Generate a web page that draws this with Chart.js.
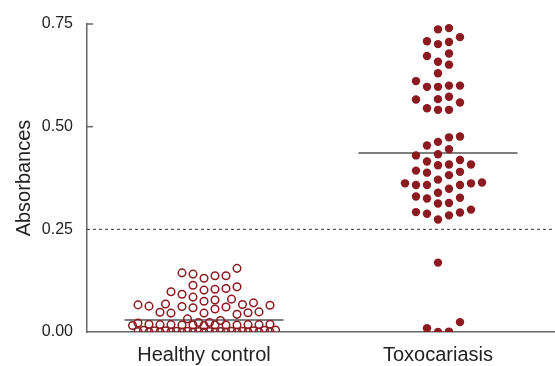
<!DOCTYPE html>
<html>
<head>
<meta charset="utf-8">
<script src="https://cdn.jsdelivr.net/npm/chart.js@4"></script>
<style>
  body { margin: 0; background: #fff; }
</style>
</head>
<body>
<canvas id="dot-chart" width="555" height="366"></canvas>
<script>
// Groups on the x axis
const categories = ['Healthy control', 'Toxocariasis'];

// Absorbance of each sample
const healthy = [
  0.155, 0.144, 0.141, 0.137, 0.137, 0.131, 0.114, 0.110, 0.106, 0.104,
  0.102, 0.098, 0.092, 0.085, 0.080, 0.078, 0.075, 0.071, 0.068, 0.067,
  0.066, 0.065, 0.063, 0.062, 0.061, 0.059, 0.056, 0.049, 0.048, 0.047,
  0.046, 0.046, 0.043, 0.032, 0.028, 0.023, 0.023, 0.022,
  0.019, 0.018, 0.018, 0.017, 0.017, 0.017, 0.017, 0.016, 0.016, 0.017,
  0.018, 0.018, 0.019,
  0.005, 0.004, 0.004, 0.003, 0.003, 0.003, 0.002, 0.002, 0.002, 0.002,
  0.001, 0.001, 0.001, 0.001, 0.001, 0.000, 0.000, 0.000, 0.000, 0.000,
  0.000, 0.000, 0.000, 0.000, 0.000, 0.000
];
const toxocariasis = [
  0.740, 0.737, 0.718, 0.708, 0.701, 0.706, 0.672, 0.678, 0.658, 0.651,
  0.630, 0.611, 0.600, 0.597, 0.597, 0.600, 0.559, 0.567, 0.573, 0.566,
  0.541, 0.541, 0.545,
  0.476, 0.474, 0.463, 0.445, 0.454, 0.433, 0.430, 0.419, 0.415, 0.408,
  0.406, 0.408, 0.390, 0.388, 0.393, 0.382, 0.371, 0.362, 0.358, 0.358,
  0.362, 0.364, 0.358, 0.349, 0.339, 0.327, 0.325, 0.330, 0.314, 0.313,
  0.292, 0.288, 0.298, 0.291, 0.284, 0.274,
  0.169, 0.009, 0.000, 0.001, 0.024
];

// Group means (horizontal bars) and the cut-off (dashed line)
const means = [0.029, 0.436];
const cutoff = 0.25;
const yTicks = [0, 0.25, 0.5, 0.75];

const red = '#8b1b20';
const axisGrey = '#666';
const meanHalfWidth = 0.34;
const fontFamily = "'Liberation Sans', Arial, sans-serif";

const centers = categories.map((c, i) => i + 0.5);

function meanLine(i) {
  return {
    type: 'line',
    data: [{x: centers[i] - meanHalfWidth, y: means[i]}, {x: centers[i] + meanHalfWidth, y: means[i]}],
    borderColor: '#555',
    borderWidth: 1.5,
    pointRadius: 0,
    order: 2
  };
}

// spread points sideways like a column scatter (beeswarm)
function swarm(values, center, chart) {
  const xs = chart.scales.x, ys = chart.scales.y;
  const step = 11, minDist = 10.5, maxCol = 6;
  const cands = [0];
  for (let k = 1; k <= maxCol; k++) cands.push(k, -k);
  for (let k = 0; k <= maxCol; k++) cands.push(k + 0.5, -(k + 0.5));
  const cx = xs.getPixelForValue(center);
  const placed = [];
  const out = new Array(values.length);
  const order = values.map((v, i) => i).sort((a, b) => values[a] - values[b]);
  order.forEach(i => {
    const py = ys.getPixelForValue(values[i]);
    let best = cx, bestD = -1;
    for (const c of cands) {
      const px = cx + c * step;
      let m = Infinity;
      for (const p of placed) m = Math.min(m, Math.hypot(p.px - px, p.py - py));
      if (m >= minDist) { best = px; bestD = m; break; }
      if (m > bestD + 0.01) { bestD = m; best = px; }
    }
    placed.push({px: best, py: py});
    out[i] = {x: xs.getValueForPixel(best), y: values[i]};
  });
  return out;
}

// small inward tick marks like the original figure
const innerTicks = {
  id: 'innerTicks',
  afterDraw(chart) {
    const {ctx, chartArea, scales} = chart;
    ctx.save();
    ctx.strokeStyle = axisGrey;
    ctx.lineWidth = 1.5;
    yTicks.forEach(v => {
      if (v === 0 || v === cutoff) return;
      const y = scales.y.getPixelForValue(v);
      ctx.beginPath();
      ctx.moveTo(chartArea.left, y);
      ctx.lineTo(chartArea.left + 6, y);
      ctx.stroke();
    });
    ctx.restore();
  }
};

const chartCanvas = document.querySelector('#dot-chart');
const dotChart = new Chart(chartCanvas, {
  type: 'scatter',
  data: {
    datasets: [
      {
        data: healthy.map(v => ({x: centers[0], y: v})),
        pointRadius: 3.8,
        pointBorderWidth: 1.5,
        pointBorderColor: red,
        pointBackgroundColor: 'rgba(0,0,0,0)',
        order: 1
      },
      {
        data: toxocariasis.map(v => ({x: centers[1], y: v})),
        pointRadius: 4.2,
        pointBorderWidth: 0,
        pointBackgroundColor: red,
        order: 1
      },
      meanLine(0),
      meanLine(1),
      {
        type: 'line',
        data: [{x: 0, y: cutoff}, {x: 2, y: cutoff}],
        borderColor: '#333',
        borderWidth: 1,
        borderDash: [3, 3],
        pointRadius: 0,
        order: 3
      }
    ]
  },
  options: {
    responsive: false,
    animation: false,
    layout: { autoPadding: false, padding: { top: 24, right: 0, left: 0, bottom: 0 } },
    plugins: {
      legend: { display: false },
      tooltip: { enabled: false }
    },
    scales: {
      x: {
        type: 'linear',
        min: 0,
        max: 2,
        afterBuildTicks: scale => { scale.ticks = centers.map(c => ({value: c})); },
        afterFit: scale => { scale.height = 34; scale.paddingLeft = 0; scale.paddingRight = 0; },
        grid: { display: false, drawTicks: false, tickLength: 0 },
        border: { color: axisGrey, width: 1.5 },
        ticks: {
          color: '#222',
          padding: 11,
          font: { family: fontFamily, size: 20 },
          callback: (value, index) => categories[index]
        }
      },
      y: {
        min: 0,
        max: 0.75,
        afterBuildTicks: scale => { scale.ticks = yTicks.map(v => ({value: v})); },
        afterFit: scale => { scale.width = 87; scale.paddingTop = 0; scale.paddingBottom = 0; },
        grid: { display: false, drawTicks: false, tickLength: 0 },
        border: { color: axisGrey, width: 1.5 },
        title: {
          display: true,
          text: 'Absorbances',
          color: '#222',
          padding: { top: 12, bottom: 0 },
          font: { family: fontFamily, size: 20 }
        },
        ticks: {
          color: '#222',
          padding: 14,
          font: { family: fontFamily, size: 16 },
          callback: value => value.toFixed(2)
        }
      }
    }
  },
  plugins: [innerTicks]
});

// lay out the points once the scales exist
dotChart.data.datasets[0].data = swarm(healthy, centers[0], dotChart);
dotChart.data.datasets[1].data = swarm(toxocariasis, centers[1], dotChart);
dotChart.update('none');
</script>
</body>
</html>
